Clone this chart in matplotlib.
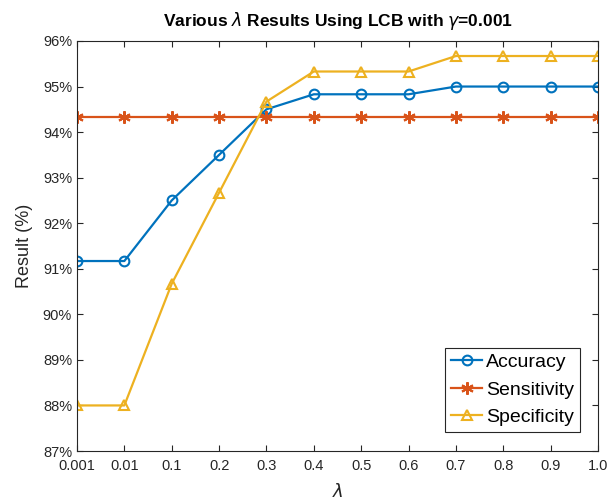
import matplotlib
matplotlib.use("Agg")
import matplotlib.pyplot as plt

plt.rcParams['font.family'] = ['Liberation Sans', 'DejaVu Sans']
plt.rcParams['mathtext.fontset'] = 'dejavusans'

# values
lambdas = ["0.001", "0.01", "0.1", "0.2", "0.3", "0.4", "0.5", "0.6", "0.7", "0.8", "0.9", "1.0"]
accuracy = [91.17, 91.17, 92.5, 93.5, 94.5, 94.83, 94.83, 94.83, 95.0, 95.0, 95.0, 95.0]
sensitivity = [94.33] * 12
specificity = [88.0, 88.0, 90.67, 92.67, 94.67, 95.33, 95.33, 95.33, 95.67, 95.67, 95.67, 95.67]
yticks = [87, 88, 89, 90, 91, 92, 93, 94, 95, 96]

fig = plt.figure(figsize=(6.08, 5.01), dpi=100)
ax = fig.add_axes([0.1266, 0.0998, 0.857, 0.8184])

xs = range(len(lambdas))
ax.plot(xs, accuracy, color="#0072BD", marker="o", mfc="none", ms=7, mew=1.5, lw=1.6, label="Accuracy")
ax.plot(xs, sensitivity, color="#D95319", marker=(6, 2, 0), ms=9, mew=1.5, lw=1.6, label="Sensitivity")
ax.plot(xs, specificity, color="#EDB120", marker="^", mfc="none", ms=7, mew=1.5, lw=1.6, label="Specificity")

ax.set_xlim(0, len(lambdas) - 1)
ax.set_ylim(87, 96)
ax.set_xticks(list(xs))
ax.set_xticklabels(lambdas)
ax.set_yticks(yticks)
ax.set_yticklabels([f"{t}%" for t in yticks])

ax.tick_params(direction="in", top=True, right=True, labelsize=10.5, colors="#262626", length=4)
ax.tick_params(axis="x", pad=6)
for sp in ax.spines.values():
    sp.set_color("#262626")
    sp.set_linewidth(0.8)

ax.set_xlabel(r"$\lambda$", fontsize=13, color="#262626", labelpad=7)
ax.set_ylabel("Result (%)", fontsize=13, color="#262626", labelpad=7)
ax.set_title(r"Various $\lambda$ Results Using LCB with $\gamma$=0.001", fontsize=12.5, fontweight="bold", pad=11)

leg = ax.legend(loc="lower right", bbox_to_anchor=(0.965, 0.047), fancybox=False, framealpha=1,
                edgecolor="#262626", fontsize=14, handlelength=1.6, borderpad=0.3,
                labelspacing=0.5, handletextpad=0.2, borderaxespad=0)
leg.get_frame().set_linewidth(0.8)

fig.savefig("out.png", dpi=100)
